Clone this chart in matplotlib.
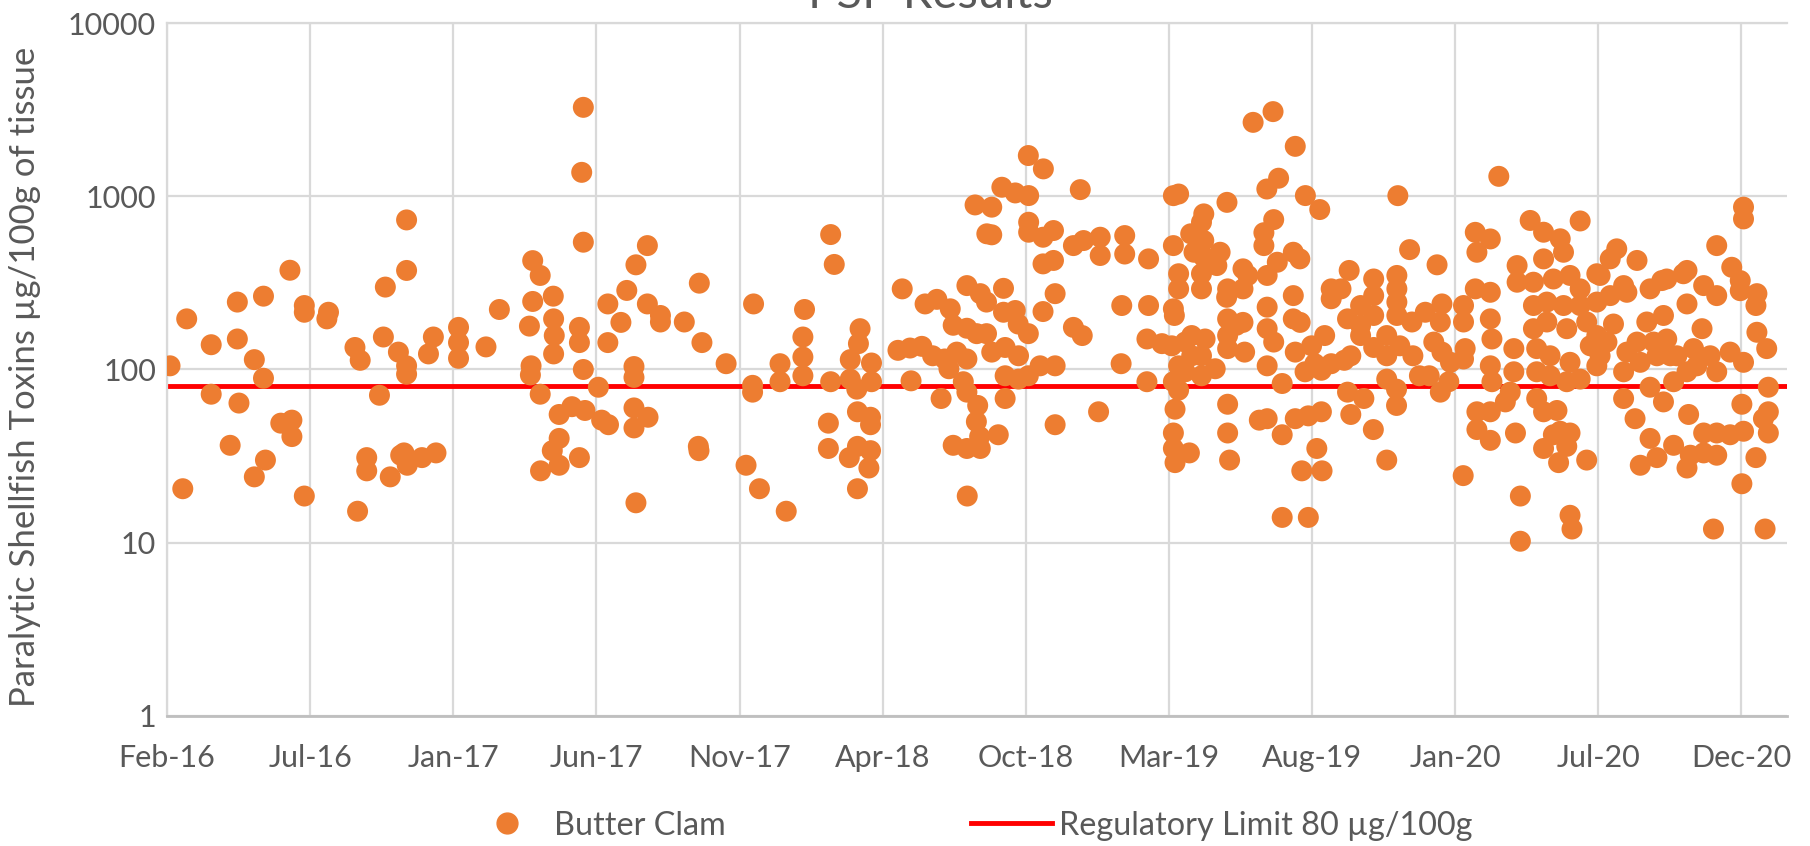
import numpy as np
import pandas as pd
import matplotlib
matplotlib.use('Agg')
import matplotlib.pyplot as plt
from matplotlib.lines import Line2D
import matplotlib.dates as mdates

plt.rcParams['font.family'] = ['Lato', 'DejaVu Sans']

# sample dates as fractional years, PSP result in ug/100g
sample_year = [
    2016.146, 2016.197, 2016.185, 2016.272, 2016.272, 2016.352, 2016.352, 2016.330, 2016.357, 2016.404,
    2016.432, 2016.432, 2016.404, 2016.438, 2016.513, 2016.485, 2016.519, 2016.519, 2016.557, 2016.557,
    2016.557, 2016.631, 2016.626, 2016.712, 2016.728, 2016.720, 2016.748, 2016.748, 2016.787, 2016.805,
    2016.799, 2016.820, 2016.845, 2016.870, 2016.870, 2016.870, 2016.870, 2016.852, 2016.862, 2016.872,
    2016.917, 2016.937, 2016.952, 2016.960,
    # 2017
    2017.029, 2017.029, 2017.029, 2017.113, 2017.154, 2017.256, 2017.279, 2017.256, 2017.246, 2017.251,
    2017.249, 2017.279, 2017.319, 2017.320, 2017.322, 2017.320, 2017.337, 2017.376, 2017.416, 2017.337,
    2017.316, 2017.337, 2017.280, 2017.399, 2017.399, 2017.399, 2017.411, 2017.411, 2017.406, 2017.411,
    2017.457, 2017.467, 2017.488, 2017.486, 2017.486, 2017.526, 2017.544, 2017.572, 2017.607, 2017.566,
    2017.566, 2017.566, 2017.609, 2017.566, 2017.572, 2017.607, 2017.647, 2017.647, 2017.720, 2017.766,
    2017.774, 2017.763, 2017.765,
    2017.848, 2017.932, 2017.929, 2017.929, 2017.909, 2017.950,
    # 2018
    2018.032, 2018.013, 2018.013, 2018.088, 2018.083, 2018.083, 2018.083, 2018.168, 2018.179, 2018.168,
    2018.161, 2018.161, 2018.258, 2018.253, 2018.228, 2018.228, 2018.248, 2018.293, 2018.293, 2018.250,
    2018.290, 2018.290, 2018.250, 2018.290, 2018.225, 2018.285, 2018.250, 2018.387, 2018.414, 2018.374,
    2018.411, 2018.447, 2018.457, 2018.493, 2018.534, 2018.543, 2018.585, 2018.615, 2018.480, 2018.517,
    2018.554, 2018.585, 2018.530, 2018.574, 2018.585, 2018.506, 2018.585, 2018.626, 2018.610, 2018.646,
    2018.618, 2018.614, 2018.624, 2018.543, 2018.585, 2018.626, 2018.586,
    2018.661, 2018.661, 2018.645, 2018.645, 2018.773, 2018.819, 2018.692, 2018.733, 2018.774, 2018.932,
    2018.774, 2018.774, 2018.818, 2018.850, 2018.818, 2018.850, 2018.911, 2018.942, 2018.993, 2018.993,
    2018.697, 2018.855, 2018.697, 2018.733, 2018.742, 2018.773, 2018.818, 2018.911, 2018.938, 2018.661,
    2018.702, 2018.743, 2018.809, 2018.855, 2018.702, 2018.743, 2018.773, 2018.702, 2018.681, 2018.855,
    2018.988,
    # 2019
    2019.068, 2019.068, 2019.141, 2019.059, 2019.141, 2019.057, 2019.136, 2019.136, 2019.182, 2019.212,
    2019.217, 2019.233, 2019.217, 2019.233, 2019.233, 2019.217, 2019.220, 2019.253, 2019.273, 2019.314,
    2019.233, 2019.253, 2019.273, 2019.303, 2019.345, 2019.303, 2019.217, 2019.233, 2019.222, 2019.217,
    2019.217, 2019.222, 2019.266, 2019.310, 2019.303, 2019.270, 2019.310, 2019.280, 2019.310, 2019.381,
    2019.360, 2019.350, 2019.303, 2019.303, 2019.383, 2019.380, 2019.430, 2019.445, 2019.430, 2019.383,
    2019.410, 2019.383, 2019.383, 2019.430, 2019.435, 2019.383, 2019.383, 2019.389, 2019.461, 2019.480,
    2019.522, 2019.590, 2019.539, 2019.503, 2019.621, 2019.665, 2019.524, 2019.494, 2019.494, 2019.584,
    2019.604, 2019.535, 2019.504, 2019.584, 2019.504, 2019.584, 2019.605, 2019.504, 2019.524, 2019.504,
    2019.590, 2019.640, 2019.680, 2019.650, 2019.700, 2019.740, 2019.760, 2019.620, 2019.670, 2019.550,
    2019.504, 2019.550, 2019.590, 2019.630, 2019.670, 2019.656, 2019.672, 2019.610, 2019.550, 2019.630,
    2019.700, 2019.700, 2019.730, 2019.755, 2019.750, 2019.790, 2019.790, 2019.830, 2019.830, 2019.830,
    2019.790, 2019.750, 2019.800, 2019.760, 2019.829, 2019.870, 2019.830, 2019.870, 2019.870, 2019.910,
    2019.950, 2019.870, 2019.900, 2019.900, 2019.901, 2019.901, 2019.901, 2019.901, 2019.904, 2019.940,
    2019.947, 2019.988, 2019.970,
    # 2020
    2020.000, 2020.024, 2020.039, 2020.034, 2020.014, 2020.039, 2020.065, 2020.034, 2020.060, 2020.105,
    2020.105, 2020.110, 2020.105, 2020.104, 2020.141, 2020.187, 2020.146, 2020.141, 2020.187, 2020.213,
    2020.187, 2020.192, 2020.187, 2020.192, 2020.233, 2020.146, 2020.187, 2020.146, 2020.187, 2020.264,
    2020.279, 2020.279, 2020.309, 2020.269, 2020.269, 2020.259, 2020.259, 2020.248,
    2020.350, 2020.401, 2020.411, 2020.350, 2020.462, 2020.319, 2020.380, 2020.431, 2020.513, 2020.462,
    2020.319, 2020.360, 2020.411, 2020.462, 2020.513, 2020.319, 2020.360, 2020.421, 2020.482, 2020.513,
    2020.329, 2020.370, 2020.431, 2020.493, 2020.523, 2020.329, 2020.370, 2020.421, 2020.462, 2020.513,
    2020.329, 2020.350, 2020.391, 2020.401, 2020.431, 2020.380, 2020.350, 2020.421, 2020.396, 2020.482,
    2020.431, 2020.437, 2020.554, 2020.574, 2020.636, 2020.523, 2020.595, 2020.554, 2020.605, 2020.564,
    2020.544, 2020.605, 2020.636, 2020.676, 2020.712, 2020.666, 2020.717, 2020.687, 2020.727, 2020.697,
    2020.738, 2020.646, 2020.595, 2020.595, 2020.630, 2020.676, 2020.717, 2020.676, 2020.646, 2020.697,
    2020.748, 2020.794, 2020.789, 2020.748, 2020.789, 2020.809, 2020.758, 2020.727, 2020.778, 2020.789,
    2020.789, 2020.840, 2020.880, 2020.835, 2020.880, 2020.926, 2020.952, 2020.952, 2021.003, 2020.819,
    2020.860, 2020.880, 2020.921, 2020.962, 2020.840, 2020.880, 2020.921, 2020.962, 2020.880, 2020.840,
    2020.799, 2020.870, 2021.028, 2020.957, 2020.957, 2020.962, 2020.962, 2021.000, 2021.003, 2021.033,
    2021.038, 2021.038, 2021.023, 2021.038, 2021.000,
]

psp = [
    105, 196, 20.5, 139, 72, 245, 150, 36.5, 64, 114,
    265, 89, 24, 30, 374, 49, 51, 41, 234, 214,
    18.6, 214, 196, 134, 113, 15.2, 31, 26, 71, 299,
    154, 24, 126, 105, 94, 730, 373, 32, 33, 28,
    31, 123, 154, 33,
    175, 143, 116, 135, 222, 425, 349, 247, 178, 105,
    93, 72, 265, 196, 157, 123, 55, 61, 58, 40,
    34, 28, 26, 31, 175, 143, 100, 543, 1374, 3260,
    79, 51, 48, 239, 143, 187, 286, 402, 519, 104,
    90, 60, 53, 46, 17, 239, 205, 188, 188, 315,
    143, 36, 34,
    108, 239, 81, 74, 28, 20.5,
    15.2, 108, 85, 222, 154, 118, 92, 601, 404, 85,
    49, 35, 172, 141, 114, 88, 77, 109, 85, 57,
    53, 48, 36, 34, 31, 27, 20.5, 292, 86, 129,
    133, 136, 239, 254, 224, 180, 173, 161, 120, 115,
    126, 115, 101, 85, 74, 68, 305, 274, 891, 607,
    62, 50, 41, 36.5, 35, 35, 18.6,
    865, 599, 245, 161, 1718, 1439, 1127, 1045, 1009, 1092,
    708, 620, 580, 634, 407, 426, 519, 555, 580, 455,
    294, 274, 214, 219, 183, 161, 216, 175, 157, 126,
    134, 120, 105, 105, 92, 88, 92, 68, 42, 48,
    57,
    593, 464, 435, 234, 234, 108, 85, 150, 141, 137,
    1008, 1030, 519, 357, 292, 224, 205, 144, 157, 150,
    105, 97, 120, 120, 101, 92, 85, 76, 59, 43,
    35, 29, 33, 791, 708, 607, 555, 475, 445, 922,
    475, 398, 357, 292, 292, 261, 381, 349, 292, 196,
    180, 157, 132, 187, 126, 63, 43, 30, 2670, 51,
    3080, 1941, 1271, 1101, 1009, 838, 733, 616, 519, 475,
    435, 416, 349, 267, 229, 196, 187, 172, 144, 105,
    126, 137, 157, 108, 108, 113, 120, 97, 99, 83,
    52, 42, 52, 54, 57, 35, 26, 26, 14, 14,
    292, 256, 292, 373, 196, 180, 234, 333, 267, 205,
    157, 74, 68, 55, 45, 30, 134, 157, 120, 137,
    120, 88, 77, 62, 349, 292, 245, 205, 1008, 492,
    188, 214, 92,
    92, 402, 239, 188, 144, 126, 110, 74, 85, 234,
    188, 132, 115, 24.4, 619, 567, 475, 292, 279, 1303,
    196, 150, 105, 85, 65, 57, 57, 45, 39, 43,
    18.6, 10.2, 725, 398, 319, 132, 97, 74,
    620, 568, 475, 435, 720, 319, 333, 349, 357, 292,
    234, 245, 234, 234, 245, 172, 188, 172, 188, 157,
    132, 120, 110, 137, 120, 97, 92, 85, 88, 105,
    68, 57, 58, 44, 43, 42, 35, 36, 29, 30,
    14.4, 12, 435, 497, 426, 349, 305, 267, 279, 183,
    144, 126, 144, 292, 326, 188, 205, 144, 150, 120,
    120, 110, 97, 68, 52, 79, 65, 40, 28, 31,
    36.5, 55, 27, 85, 97, 132, 120, 333, 357, 373,
    239, 305, 267, 172, 519, 389, 326, 285, 274, 105,
    120, 97, 126, 110, 43, 43, 42, 44, 32, 33,
    32, 12, 12, 63, 21.9, 865, 740, 234, 164, 132,
    79, 57, 52, 43, 31,
]

limit = 80
y_ticks = [1, 10, 100, 1000, 10000]
tick_start = '2016-02-20'
tick_step_days = 160
n_ticks = 12

orange = '#ED7D31'
grey_text = '#595959'
grid_col = '#D9D9D9'

dates = pd.Timestamp('2016-01-01') + pd.to_timedelta((np.array(sample_year) - 2016) * 365.25, unit='D')
x_ticks = pd.date_range(tick_start, periods=n_ticks, freq=f'{tick_step_days}D')

fig = plt.figure(figsize=(18.1, 8.46), dpi=100)
ax = fig.add_axes([0.0923, 0.1537, 0.895, 0.8191])

ax.axhline(limit, color='red', lw=3.5, zorder=2)
ax.scatter(dates, psp, s=228, color=orange, edgecolors='none', zorder=3)

ax.set_yscale('log')
ax.set_ylim(1, 10000)
ax.set_yticks(y_ticks)
ax.set_yticklabels([str(v) for v in y_ticks])
ax.yaxis.set_minor_locator(plt.NullLocator())

ax.set_xlim(pd.Timestamp(tick_start), pd.Timestamp(tick_start) + pd.Timedelta(days=1811))
ax.set_xticks(x_ticks)
ax.xaxis.set_major_formatter(mdates.DateFormatter('%b-%y'))

ax.grid(True, color=grid_col, lw=1.6, zorder=0)
ax.set_axisbelow(True)
for side in ['left', 'top']:
    ax.spines[side].set_color(grid_col)
    ax.spines[side].set_linewidth(1.6)
ax.spines['right'].set_visible(False)
ax.spines['bottom'].set_color('#BFBFBF')
ax.spines['bottom'].set_linewidth(2)

ax.tick_params(axis='both', length=0, labelsize=22, colors=grey_text)
ax.tick_params(axis='y', pad=8)
ax.tick_params(axis='x', pad=20)

ax.set_ylabel('Paralytic Shellfish Toxins µg/100g of tissue', fontsize=25, color=grey_text)
ax.yaxis.set_label_coords(-0.078, 0.49)

# title sits mostly above the top edge, as in the original export
fig.text(0.514, 0.9905, 'PSP Results', ha='center', va='baseline', fontsize=34, color=grey_text)

handles = [
    Line2D([], [], marker='o', ls='none', color=orange, markersize=15),
    Line2D([], [], color='red', lw=3.5),
]
fig.legend(handles, ['Butter Clam', 'Regulatory Limit 80 µg/100g'], loc='center',
           bbox_to_anchor=(0.5355, 0.024), ncol=2, frameon=False, fontsize=23.3,
           labelcolor=grey_text, handlelength=2.5, handletextpad=0.2, columnspacing=7.6)

fig.savefig('out.png', dpi=100)
